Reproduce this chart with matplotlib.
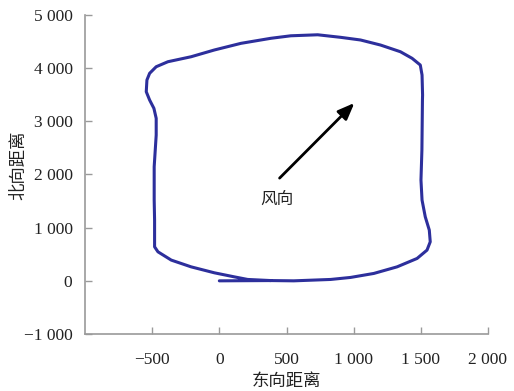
import numpy as np
import matplotlib.pyplot as plt
from matplotlib.ticker import FuncFormatter

plt.rcParams['font.family'] = ['Liberation Serif', 'DejaVu Serif']

# flight track (east, north) in metres
east = [0, 384, 554, 829, 977, 1150, 1323, 1472, 1546, 1570, 1563, 1533, 1509,
        1501, 1508, 1512, 1513, 1509, 1496, 1435, 1348, 1200, 1051, 903, 732,
        532, 384, 161, -37, -210, -383, -470, -519, -539, -544, -519, -487,
        -470, -470, -485, -485, -482, -482, -457, -358, -210, -37, 111, 211, 384]
north = [0, 5, 0, 26, 64, 139, 263, 421, 578, 734, 954, 1204, 1519,
         1895, 2460, 3400, 3495, 3871, 4059, 4185, 4309, 4435, 4530, 4580, 4628,
         4609, 4562, 4467, 4342, 4215, 4121, 4027, 3903, 3777, 3557, 3401, 3244,
         3056, 2742, 2145, 1525, 1142, 640, 546, 390, 263, 151, 75, 26, 5]

arrow_tail = (434, 1895)
arrow_head = (1020, 3382)
wind_label = '风向'
wind_pos = (429, 1538)

xticks = [-500, 0, 500, 1000, 1500, 2000]
yticks = [-1000, 0, 1000, 2000, 3000, 4000, 5000]

cjk = ['Noto Sans CJK SC', 'DejaVu Sans']


def fmt(v, pos):
    s = '{:,}'.format(int(v)).replace(',', ' ')
    return s.replace('-', '\u2212')


fig = plt.figure(figsize=(5.14, 3.91), dpi=100)
ax = fig.add_axes([85/514, 57/391, 403/514, 319/391])

ax.plot(east, north, color='#2d2f9c', lw=2.2, solid_capstyle='round', solid_joinstyle='round')
ax.annotate('', xy=arrow_head, xytext=arrow_tail,
            arrowprops=dict(arrowstyle='-|>,head_length=1.0,head_width=0.4', color='black', lw=2.0))
ax.text(wind_pos[0], wind_pos[1], wind_label, family=cjk, fontsize=12,
        ha='center', va='center', color='#222222')

ax.set_xlim(-1000, 2000)
ax.set_ylim(-1000, 5000)
ax.set_xticks(xticks)
ax.set_yticks(yticks)
ax.xaxis.set_major_formatter(FuncFormatter(fmt))
ax.yaxis.set_major_formatter(FuncFormatter(fmt))

for s in ['top', 'right']:
    ax.spines[s].set_visible(False)
for s in ['left', 'bottom']:
    ax.spines[s].set_color('#9a9a9a')
    ax.spines[s].set_linewidth(1.2)
ax.tick_params(direction='in', length=5, width=1.0, color='#9a9a9a',
               labelsize=12.5, labelcolor='#222222')
ax.tick_params(axis='x', pad=13)
ax.tick_params(axis='y', pad=9)

ax.set_xlabel('东向距离', family=cjk, fontsize=12.5, color='#222222')
ax.set_ylabel('北向距离', family=cjk, fontsize=12.5, color='#222222')
ax.xaxis.set_label_coords(0.5, -0.118)
ax.yaxis.set_label_coords(-0.143, 0.53)

fig.savefig('out.png', dpi=100)
